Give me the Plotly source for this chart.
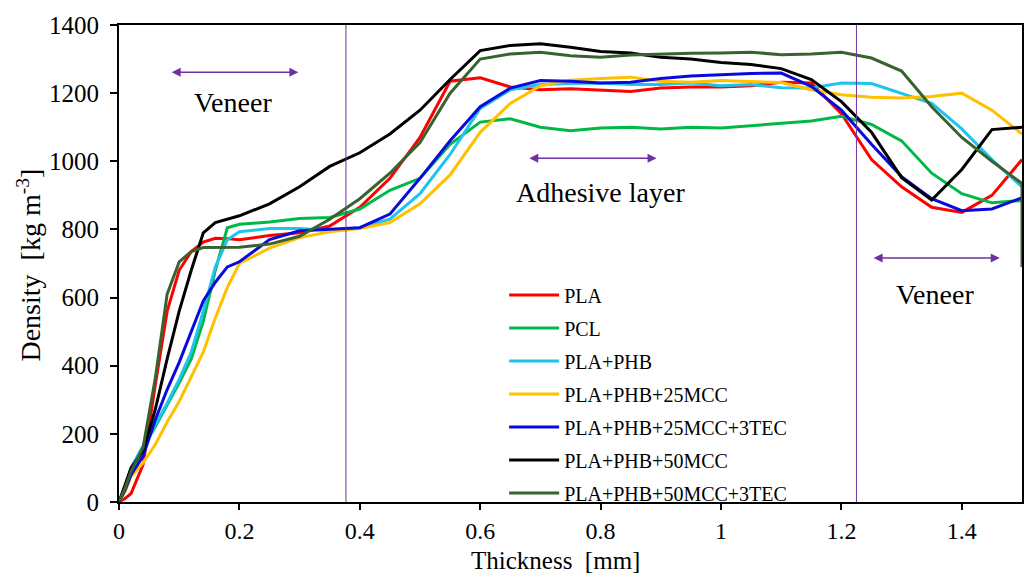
import plotly.graph_objects as go

thickness = [0, 0.01, 0.02, 0.04, 0.06, 0.08, 0.1, 0.12, 0.14, 0.16, 0.18, 0.2,
             0.25, 0.3, 0.35, 0.4, 0.45, 0.5, 0.55, 0.6, 0.65, 0.7, 0.75, 0.8,
             0.85, 0.9, 0.95, 1.0, 1.05, 1.1, 1.15, 1.2, 1.25, 1.3, 1.35, 1.4,
             1.45, 1.5]

pla = [0, 10, 25, 110, 340, 560, 680, 735, 763, 774, 773, 770,
       782, 790, 810, 865, 950, 1070, 1235, 1245, 1218, 1210, 1213, 1210,
       1205, 1215, 1218, 1218, 1222, 1232, 1230, 1140, 1005, 925, 865, 850,
       900, 1005]

pcl = [0, 40, 90, 160, 220, 285, 350, 420, 530, 680, 805, 815,
       822, 832, 835, 860, 915, 950, 1050, 1115, 1125, 1100, 1090, 1098,
       1100, 1095, 1100, 1098, 1105, 1110, 1118, 1132, 1108, 1060, 965, 905,
       878, 885]

pla_phb = [0, 40, 100, 165, 225, 290, 360, 440, 560, 690, 770, 793,
           803, 803, 797, 805, 830, 905, 1020, 1155, 1210, 1225, 1228, 1230,
           1225, 1225, 1230, 1222, 1225, 1216, 1215, 1230, 1228, 1200, 1170, 1095,
           1005, 925]

pla_phb_25mcc = [0, 30, 75, 115, 168, 235, 295, 370, 440, 540, 630, 700,
                 745, 776, 793, 803, 820, 875, 960, 1085, 1170, 1222, 1238, 1243,
                 1247, 1235, 1232, 1237, 1235, 1231, 1210, 1195, 1188, 1186, 1190, 1200,
                 1150, 1080]

pla_phb_25mcc_3tec = [0, 35, 80, 135, 240, 330, 410, 500, 590, 645, 690, 705,
                      770, 796, 800, 805, 845, 950, 1060, 1160, 1215, 1237, 1235, 1230,
                      1232, 1243, 1250, 1255, 1258, 1259, 1220, 1150, 1050, 955, 890, 855,
                      860, 893]

pla_phb_50mcc = [0, 50, 100, 150, 270, 420, 560, 680, 790, 820, 830, 840,
                 875, 925, 985, 1025, 1080, 1150, 1240, 1325, 1340, 1345, 1335, 1322,
                 1318, 1305, 1300, 1290, 1284, 1272, 1240, 1175, 1085, 952, 886, 976,
                 1093, 1100]

thickness_50mcc_3tec = thickness + [1.5]
pla_phb_50mcc_3tec = [0, 40, 90, 160, 360, 610, 705, 735, 747, 748, 748, 748,
                      757, 780, 830, 890, 965, 1055, 1200, 1300, 1315, 1320, 1310, 1305,
                      1312, 1315, 1317, 1318, 1320, 1313, 1315, 1320, 1303, 1265, 1160, 1070,
                      1000, 935, 690]

series_names = ["PLA", "PCL", "PLA+PHB", "PLA+PHB+25MCC", "PLA+PHB+25MCC+3TEC",
                "PLA+PHB+50MCC", "PLA+PHB+50MCC+3TEC"]
series_colors = ["#FF0000", "#00B845", "#1EC4EE", "#FFC000", "#0A0ADC",
                 "#000000", "#38622F"]
series_x = [thickness] * 6 + [thickness_50mcc_3tec]
series_y = [pla, pcl, pla_phb, pla_phb_25mcc, pla_phb_25mcc_3tec,
            pla_phb_50mcc, pla_phb_50mcc_3tec]

x_ticks = [0, 0.2, 0.4, 0.6, 0.8, 1.0, 1.2, 1.4]
x_tick_labels = ["0", "0.2", "0.4", "0.6", "0.8", "1", "1.2", "1.4"]
y_ticks = [0, 200, 400, 600, 800, 1000, 1200, 1400]

boundaries = [0.377, 1.225]

FONT = "Liberation Serif"
PURPLE = "#7030A0"

fig = go.Figure()
for i, (name, col, xs, ys) in enumerate(zip(series_names, series_colors, series_x, series_y)):
    fig.add_trace(go.Scatter(x=xs, y=ys, mode="lines", name=name,
                             line=dict(color=col, width=3), legendgroup=f"g{i}"))

for b in boundaries:
    fig.add_shape(type="line", x0=b, x1=b, y0=0, y1=1400, xref="x", yref="y",
                  line=dict(color=PURPLE, width=1))

# double-headed arrows
arrows = [(0.085, 0.298, 1261), (0.679, 0.893, 1009), (1.251, 1.463, 716)]
for x0, x1, yy in arrows:
    fig.add_annotation(x=x1, y=yy, ax=x0, ay=yy, xref="x", yref="y", axref="x", ayref="y",
                       text="", showarrow=True, arrowhead=2, arrowside="end+start",
                       arrowsize=1.2, arrowwidth=1.5, arrowcolor=PURPLE)

labels = [("Veneer", 0.19, 1173), ("Adhesive layer", 0.799, 908), ("Veneer", 1.356, 608)]
for t, xx, yy in labels:
    fig.add_annotation(x=xx, y=yy, xref="x", yref="y", text=t, showarrow=False,
                       font=dict(family=FONT, size=28, color="black"))

fig.add_annotation(x=0.483, y=-0.122, xref="paper", yref="paper",
                   text="Thickness\u00a0\u00a0[mm]", showarrow=False,
                   xanchor="center", yanchor="middle",
                   font=dict(family=FONT, size=25, color="black"))
fig.add_annotation(x=-0.099, y=0.497, xref="paper", yref="paper",
                   text="Density\u00a0\u00a0[kg m<sup>-3</sup>]", showarrow=False,
                   textangle=-90, xanchor="center", yanchor="middle",
                   font=dict(family=FONT, size=28, color="black"))

axis_common = dict(showgrid=False, zeroline=False, showline=True, linecolor="black",
                   linewidth=2, mirror=True, ticks="outside", tickwidth=2,
                   tickcolor="black")

fig.update_xaxes(range=[0, 1.5], tickvals=x_ticks, ticktext=x_tick_labels, ticklen=6,
                 tickfont=dict(family=FONT, size=24, color="black"), **axis_common)
fig.update_yaxes(range=[0, 1400], tickvals=y_ticks, ticklabelstandoff=6, ticklen=7,
                 tickfont=dict(family=FONT, size=25, color="black"), **axis_common)

fig.update_layout(
    width=1016, height=567,
    margin=dict(l=111, r=2, t=17, b=73, autoexpand=False),
    plot_bgcolor="white", paper_bgcolor="white",
    font=dict(family=FONT, color="black"),
    showlegend=True,
    legend=dict(x=0.4265, y=0.475, xanchor="left", yanchor="top",
                bgcolor="rgba(0,0,0,0)", font=dict(family=FONT, size=20, color="black"),
                itemwidth=50, tracegroupgap=4),
)

fig.write_html("out.html")
